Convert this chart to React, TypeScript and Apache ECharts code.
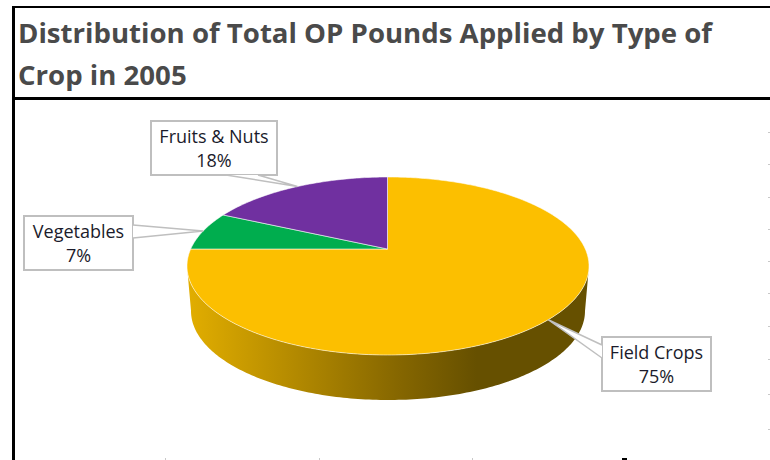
import React, { useEffect, useRef } from "react";
import * as echarts from "echarts";

const categories = ["Field Crops", "Vegetables", "Fruits & Nuts"];
const shares = [75, 7, 18];
const sliceColors = ["#FCBF00", "#00AD4E", "#7030A0"];
const titleLines = ["Distribution of Total OP Pounds Applied by Type of", "Crop in 2005"];

// layout of the tilted pie
const ELLIPSE = { cx: 388, cy: 266, rx: 201, ry: 89 };
const APEX = { x: 387.5, y: 249 };
const TILT = 0.44;
const DEPTH = 45;
const BOTTOM_RX = 197;
// callout boxes, same order as categories: x, y, w, h, then opening edge points
const boxes = [
  { x: 602, y: 337, w: 109, h: 54, a: [602, 345], b: [602, 358] },
  { x: 24, y: 216, w: 109, h: 54, a: [133, 225], b: [133, 238] },
  { x: 151, y: 121, w: 126, h: 54, a: [226, 175], b: [258, 175] },
];
const rightTicks = [132, 164, 197, 229, 261, 293, 326, 359, 394, 429];
const bottomTicks = [165, 319, 472];

function rimPoint(share: number): [number, number] {
  const t = (share / 100) * Math.PI * 2;
  const dx = Math.sin(t);
  const dy = -Math.cos(t) * TILT;
  const ox = APEX.x - ELLIPSE.cx;
  const oy = APEX.y - ELLIPSE.cy;
  const A = (dx * dx) / (ELLIPSE.rx * ELLIPSE.rx) + (dy * dy) / (ELLIPSE.ry * ELLIPSE.ry);
  const B = (2 * ox * dx) / (ELLIPSE.rx * ELLIPSE.rx) + (2 * oy * dy) / (ELLIPSE.ry * ELLIPSE.ry);
  const C = (ox * ox) / (ELLIPSE.rx * ELLIPSE.rx) + (oy * oy) / (ELLIPSE.ry * ELLIPSE.ry) - 1;
  const s = (-B + Math.sqrt(B * B - 4 * A * C)) / (2 * A);
  return [APEX.x + s * dx, APEX.y + s * dy];
}

function rimArc(from: number, to: number): [number, number][] {
  const n = Math.max(2, Math.ceil((to - from) * 4));
  const pts: [number, number][] = [];
  for (let i = 0; i <= n; i++) pts.push(rimPoint(from + ((to - from) * i) / n));
  return pts;
}

function sliceRows() {
  let acc = 0;
  return shares.map((v) => {
    const row = [acc, acc + v, v];
    acc += v;
    return row;
  });
}

function renderWall(params: any, api: any) {
  const rim = rimArc(api.value(0), api.value(1)).filter((p) => p[1] >= ELLIPSE.cy - 1);
  if (rim.length < 2) return { type: "group", children: [] };
  const lower = rim
    .map((p) => [ELLIPSE.cx + ((p[0] - ELLIPSE.cx) * BOTTOM_RX) / ELLIPSE.rx, p[1] + DEPTH])
    .reverse();
  return {
    type: "polygon",
    shape: { points: [...rim, ...lower] },
    style: {
      fill: new echarts.graphic.LinearGradient(0, 0, 1, 0, [
        { offset: 0, color: "#E2AE00" },
        { offset: 0.53, color: "#856600" },
        { offset: 0.72, color: "#665000" },
        { offset: 1, color: "#665000" },
      ]),
    },
  };
}

function renderSlice(params: any, api: any) {
  const i = params.dataIndex;
  return {
    type: "polygon",
    shape: { points: [[APEX.x, APEX.y], ...rimArc(api.value(0), api.value(1))] },
    style: { fill: sliceColors[i], stroke: "rgba(255,255,255,0.55)", lineWidth: 1 },
  };
}

function renderCallout(params: any, api: any) {
  const i = params.dataIndex;
  const box = boxes[i];
  const tip = rimPoint((api.value(0) + api.value(1)) / 2);
  const stroke = "#BFBFBF";
  return {
    type: "group",
    children: [
      {
        type: "rect",
        shape: { x: box.x, y: box.y, width: box.w, height: box.h },
        style: { fill: "#fff", stroke, lineWidth: 2 },
      },
      { type: "polygon", shape: { points: [box.a, tip, box.b] }, style: { fill: "#fff" } },
      { type: "polyline", shape: { points: [box.a, tip, box.b] }, style: { fill: "none", stroke, lineWidth: 1.5 } },
      {
        type: "text",
        style: {
          x: box.x + box.w / 2,
          y: box.y + box.h / 2,
          text: `${categories[i]}\n${api.value(2)}%`,
          align: "center",
          verticalAlign: "middle",
          fontFamily: "Open Sans",
          fontSize: 18,
          lineHeight: 23.5,
          fill: "#1B1B2B",
        },
      },
    ],
  };
}

export default function App() {
  const ref = useRef<HTMLDivElement>(null);
  useEffect(() => {
    const chart = echarts.init(ref.current!, null, { renderer: "svg", width: 770, height: 460 });
    const rows = sliceRows();
    chart.setOption({
      animation: false,
      backgroundColor: "#fff",
      title: {
        text: titleLines.join("\n"),
        left: 13,
        top: 6,
        textStyle: { fontFamily: "Open Sans", fontWeight: "bold", fontSize: 27.6, lineHeight: 42, color: "#4A4A4A" },
      },
      graphic: [
        { type: "rect", shape: { x: 12, y: 6, width: 758, height: 2 }, style: { fill: "#000" } },
        { type: "rect", shape: { x: 12, y: 6, width: 3, height: 454 }, style: { fill: "#000" } },
        { type: "rect", shape: { x: 12, y: 97, width: 758, height: 3 }, style: { fill: "#000" } },
        ...rightTicks.map((y) => ({ type: "rect", shape: { x: 768, y, width: 2, height: 1 }, style: { fill: "#C8C8C8" } })),
        ...bottomTicks.map((x) => ({ type: "rect", shape: { x, y: 458, width: 1, height: 2 }, style: { fill: "#C8C8C8" } })),
        { type: "rect", shape: { x: 622, y: 458, width: 5, height: 2 }, style: { fill: "#000" } },
      ],
      series: [
        { type: "custom", coordinateSystem: "none", name: "Wall", data: rows, renderItem: renderWall, silent: true },
        { type: "custom", coordinateSystem: "none", name: "Slices", data: rows, renderItem: renderSlice, silent: true },
        { type: "custom", coordinateSystem: "none", name: "Labels", data: rows, renderItem: renderCallout, silent: true },
      ],
    });
    return () => chart.dispose();
  }, []);
  return <div ref={ref} style={{ position: "fixed", left: 0, top: 0, width: 770, height: 460 }} />;
}
